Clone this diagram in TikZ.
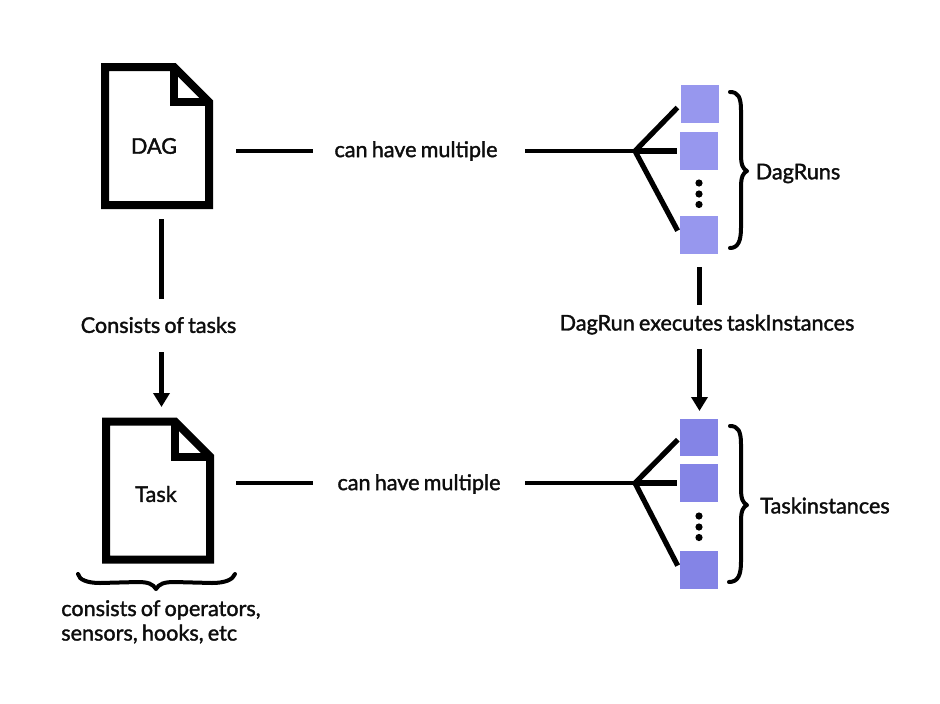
\documentclass[tikz,border=0pt]{standalone}
\usepackage{fontspec}
\setmainfont[RawFeature={embolden=1.6}, WordSpace=0.75]{Lato}
\usetikzlibrary{arrows.meta}

\definecolor{runblue}{HTML}{9797EE}
\definecolor{taskblue}{HTML}{8484E6}

\tikzset{
    every node/.style={font=\fontsize{16.2}{18.4}\selectfont, text=black!95, inner sep=0pt},
    docbox/.style={minimum width=84pt, minimum height=110pt}, % size of a page icon
    pageline/.style={line width=6pt, line join=miter, miter limit=4},
    linkline/.style={line width=3.7pt},
    forkline/.style={line width=3.9pt},
    headline/.style={line width=3.7pt, -{Triangle[length=10.5pt, width=12pt]}},
    bracket/.style={line width=3pt, line cap=round, line join=round},
    runbox/.style={fill=runblue, minimum width=28.2pt, minimum height=28.2pt},
    taskbox/.style={fill=taskblue, minimum width=28.2pt, minimum height=28.2pt},
    dotmark/.style={circle, fill=black, minimum size=5.4pt}
}

\newcommand{\pageicon}[3]{%
    \node[docbox] (#1) at (#2,#3) {};
    \draw[pageline, shift={(#1.center)}] (-52,-69) -- (17,-69) -- (52,-34) -- (52,69) -- (-52,69) -- cycle;
    \draw[pageline, shift={(#1.center)}] (17,-69) -- (17,-34) -- (52,-34);
}

\begin{document}
\begin{tikzpicture}[x=0.75pt, y=-0.75pt]
\useasboundingbox (0,0) rectangle (940,704);

% page icons
\pageicon{dag}{157}{136}
\pageicon{task}{158}{490.5}
\node (dagtext) at (154,146) {DAG};
\node (tasktext) at (156,494) {Task};

% labels
\node (multione) at (416,151) {can have multiple};
\node (multitwo) at (419,484) {can have multiple};
\node (consists) at (158.5,325) {Consists of tasks};
\node (executes) at (707,324.5) {DagRun executes taskInstances};
\node (dagruns) at (798,173.5) {DagRuns};
\node (taskinst) at (825,505.5) {Taskinstances};
\node[align=left, anchor=north west] (opers) at (61,600) {consists of operators,\\sensors, hooks, etc};

% boxes
\node[runbox] (runa) at (700,104) {};
\node[runbox] (runb) at (699,151) {};
\node[runbox] (runc) at (699,235) {};
\node[taskbox] (insta) at (699,437.5) {};
\node[taskbox] (instb) at (699,483) {};
\node[taskbox] (instc) at (699,570) {};
\foreach \yy in {183,194,204.5} \node[dotmark] at (699,\yy) {};
\foreach \yy in {516,527,537.5} \node[dotmark] at (699,\yy) {};

% free ends
\coordinate (dagout) at (236,151);
\coordinate (dagin) at (313,151);
\coordinate (taskout) at (236,483);
\coordinate (taskin) at (313,483);
\coordinate (runstart) at (525,151);
\coordinate (runfork) at (635,151);
\coordinate (inststart) at (525,483);
\coordinate (instfork) at (635,483);
\coordinate (downa) at (161.5,219);
\coordinate (downb) at (161.5,299);
\coordinate (downc) at (161.5,352);
\coordinate (downd) at (161.5,407);
\coordinate (righta) at (699.5,267);
\coordinate (rightb) at (699.5,305);
\coordinate (rightc) at (699.5,349);
\coordinate (rightd) at (699.5,411);

% connectors
\draw[linkline] (dagout) -- (dagin);
\draw[linkline] (taskout) -- (taskin);
\draw[linkline] (runstart) -- (runfork);
\draw[linkline] (inststart) -- (instfork);
\draw[linkline] (downa) -- (downb);
\draw[headline] (downc) -- (downd);
\draw[linkline] (righta) -- (rightb);
\draw[headline] (rightc) -- (rightd);

\draw[forkline, shorten >=3.7pt] (runfork) -- (runa.west);
\draw[forkline, shorten >=2.3pt] (runfork) -- (runb.west);
\draw[forkline, shorten >=3.7pt] (runfork) -- (runc.west);
\draw[forkline, shorten >=2.3pt] (instfork) -- (insta.west);
\draw[forkline, shorten >=2.3pt] (instfork) -- (instb.west);
\draw[forkline, shorten >=3.7pt] (instfork) -- (instc.west);

% curly brackets
\draw[bracket] (730,92) .. controls (738,92) and (741,97) .. (741,110)
    -- (741,155) .. controls (741,165) and (743,169) .. (747,171)
    .. controls (743,173) and (741,177) .. (741,187)
    -- (741,228) .. controls (741,241) and (738,248) .. (730,248);
\draw[bracket] (730,426) .. controls (738,426) and (741,431) .. (741,444)
    -- (741,489) .. controls (741,499) and (743,503) .. (747,505)
    .. controls (743,507) and (741,511) .. (741,521)
    -- (741,562) .. controls (741,575) and (738,582) .. (729,582);
\draw[bracket] (78,574) .. controls (79,580) and (88,583) .. (100,583)
    -- (138,582) .. controls (148,582) and (153,584) .. (156,589)
    .. controls (159,584) and (164,582) .. (174,582)
    -- (212,583) .. controls (224,583) and (233,580) .. (235,574);
\end{tikzpicture}
\end{document}
